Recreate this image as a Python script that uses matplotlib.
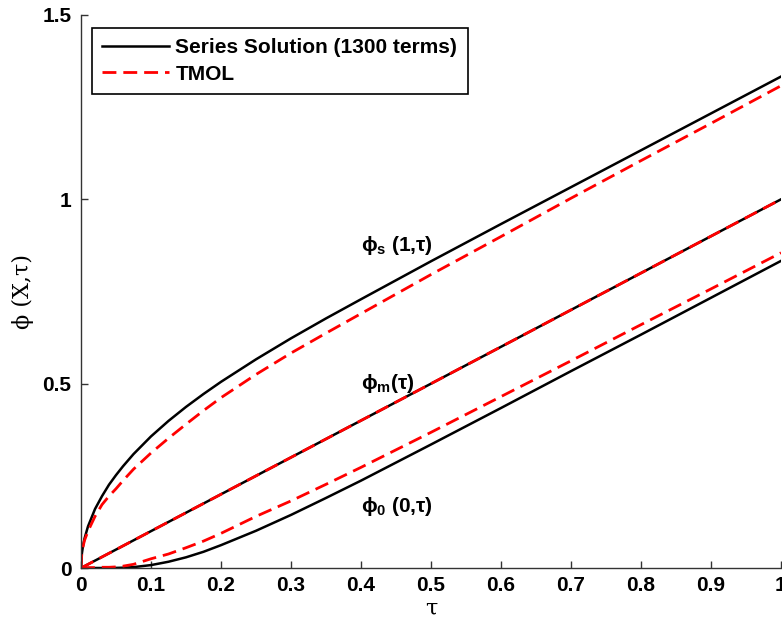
import matplotlib
matplotlib.use('Agg')
import matplotlib.pyplot as plt

plt.rcParams['font.family'] = ['Liberation Sans', 'DejaVu Sans']
plt.rcParams['mathtext.fontset'] = 'custom'
plt.rcParams['mathtext.rm'] = 'Liberation Sans:bold'
plt.rcParams['mathtext.it'] = 'Liberation Sans:bold'
plt.rcParams['mathtext.bf'] = 'Liberation Sans:bold'

# tau grid shared by the surface / origin curves
tau = [0, 0.001, 0.0025, 0.005, 0.01, 0.02, 0.03, 0.04, 0.05, 0.06, 0.075,
       0.1, 0.125, 0.15, 0.175, 0.2, 0.25, 0.3, 0.35, 0.4, 0.5, 0.6, 0.7,
       0.8, 0.9, 1.0]

# series solution (1300 terms)
series_s = [0, 0.036, 0.056, 0.080, 0.113, 0.160, 0.195, 0.226, 0.252, 0.276,
            0.309, 0.357, 0.399, 0.437, 0.472, 0.505, 0.566, 0.623, 0.677,
            0.729, 0.832, 0.933, 1.033, 1.133, 1.233, 1.333]
series_0 = [0, 0, 0, 0, 0, 0, 0, 0, 0.0003, 0.0008, 0.0024,
            0.0079, 0.017, 0.029, 0.044, 0.062, 0.101, 0.144, 0.190,
            0.237, 0.335, 0.434, 0.534, 0.633, 0.733, 0.833]

# TMOL
tmol_s = [0, 0.035, 0.055, 0.075, 0.100, 0.140, 0.172, 0.195, 0.215, 0.237,
          0.268, 0.312, 0.352, 0.390, 0.427, 0.462, 0.525, 0.583, 0.637,
          0.690, 0.796, 0.899, 1.003, 1.105, 1.206, 1.308]
tmol_0 = [0, 0, 0, 0, 0.001, 0.001, 0.002, 0.002, 0.003, 0.005, 0.010,
          0.025, 0.038, 0.055, 0.073, 0.094, 0.140, 0.182, 0.227,
          0.273, 0.368, 0.465, 0.562, 0.660, 0.757, 0.855]

# mean value (identical for both methods)
tau_m = [0, 1.0]
mean_m = [0, 1.0]

fig = plt.figure(figsize=(7.82, 6.3), dpi=100)
ax = fig.add_axes([0.1036, 0.0984, 0.8951, 0.8778])

dash = (0, (5, 2.5))
ax.plot(tau, series_s, color='black', lw=1.8, label='Series Solution (1300 terms)')
ax.plot(tau, series_0, color='black', lw=1.8)
ax.plot(tau_m, mean_m, color='black', lw=1.8)
ax.plot(tau, tmol_s, color='red', lw=2, ls=dash, label='TMOL')
ax.plot(tau, tmol_0, color='red', lw=2, ls=dash)
ax.plot(tau_m, mean_m, color='red', lw=2, ls=dash)

ax.set_xlim(0, 1)
ax.set_ylim(0, 1.5)
ax.set_xticks([0, 0.1, 0.2, 0.3, 0.4, 0.5, 0.6, 0.7, 0.8, 0.9, 1])
ax.set_xticklabels(['0', '0.1', '0.2', '0.3', '0.4', '0.5', '0.6', '0.7', '0.8', '0.9', '1'])
ax.set_yticks([0, 0.5, 1, 1.5])
ax.set_yticklabels(['0', '0.5', '1', '1.5'])
ax.tick_params(direction='in', length=5, width=1, labelsize=15, color='#333333')
ax.tick_params(axis='x', pad=6)
ax.tick_params(axis='y', pad=7)
for lab in ax.get_xticklabels() + ax.get_yticklabels():
    lab.set_fontweight('bold')
ax.spines['top'].set_visible(False)
ax.spines['right'].set_visible(False)
for sp in ['left', 'bottom']:
    ax.spines[sp].set_color('#333333')
    ax.spines[sp].set_linewidth(1)

ax.set_xlabel('τ', fontsize=16, family=['DejaVu Serif'], labelpad=2)
ax.set_ylabel('ϕ (X,τ)', fontsize=16, family=['DejaVu Serif'], labelpad=6)

ax.text(0.40, 0.86, r'$\phi_\mathrm{s}$ (1,τ)', fontsize=15, fontweight='bold')
ax.text(0.40, 0.485, r'$\phi_\mathrm{m}$(τ)', fontsize=15, fontweight='bold')
ax.text(0.40, 0.153, r'$\phi_\mathrm{0}$ (0,τ)', fontsize=15, fontweight='bold')

leg = ax.legend(loc='upper left', bbox_to_anchor=(0.0157, 0.9765), borderaxespad=0,
                fancybox=False, edgecolor='black', framealpha=1,
                prop={'weight': 'bold', 'size': 15}, handlelength=3.2,
                borderpad=0.5, labelspacing=0.35, handletextpad=0.3)
leg.get_frame().set_linewidth(1.2)

fig.savefig('out.png', dpi=100)
